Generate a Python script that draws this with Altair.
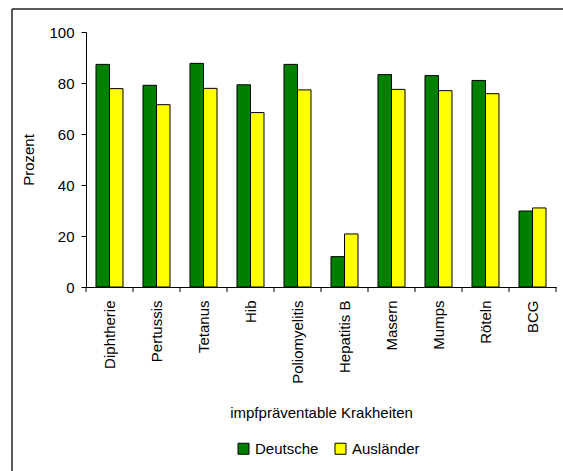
import altair as alt
import pandas as pd

# Impfquoten nach Herkunft
krankheiten = ["Diphtherie", "Pertussis", "Tetanus", "Hib", "Poliomyelitis",
               "Hepatitis B", "Masern", "Mumps", "Röteln", "BCG"]
deutsche = [87.3, 79.1, 87.7, 79.3, 87.3, 11.9, 83.3, 82.9, 81.0, 29.8]
auslaender = [77.8, 71.5, 77.9, 68.4, 77.3, 20.8, 77.5, 77.0, 75.8, 31.0]
gruppen = ["Deutsche", "Ausländer"]
farben = ["#008000", "#FFFF00"]
y_ticks = [0, 20, 40, 60, 80, 100]

FONT = "Liberation Sans"
FS = 15

df = pd.DataFrame({
    "Krankheit": krankheiten * 2,
    "Gruppe": [gruppen[0]] * len(krankheiten) + [gruppen[1]] * len(krankheiten),
    "Prozent": deutsche + auslaender,
})
df_ticks = pd.DataFrame({"Krankheit": krankheiten})
df_last = pd.DataFrame({"Krankheit": krankheiten[-1:]})

x_scale = alt.Scale(domain=krankheiten, paddingInner=0, paddingOuter=0)

bars = alt.Chart(df).mark_bar(stroke="black", strokeWidth=1).encode(
    x=alt.X("Krankheit:N", sort=krankheiten, scale=x_scale,
            axis=alt.Axis(title="impfpräventable Krakheiten", labelAngle=270,
                          ticks=False, labelPadding=13, labelFont=FONT,
                          labelFontSize=FS, labelColor="black",
                          titleFont=FONT, titleFontSize=FS, titleFontWeight="normal",
                          titleColor="black", titleY=118, titleBaseline="top",
                          domainColor="black", grid=False)),
    xOffset=alt.XOffset("Gruppe:N", sort=gruppen,
                        scale=alt.Scale(domain=gruppen, paddingInner=0, paddingOuter=0.74)),
    y=alt.Y("Prozent:Q", scale=alt.Scale(domain=[0, 100]),
            axis=alt.Axis(values=y_ticks, title="Prozent", grid=False,
                          tickSize=5, labelPadding=7, labelFont=FONT,
                          labelFontSize=FS, labelColor="black",
                          domainColor="black", tickColor="black",
                          titleFont=FONT, titleFontSize=FS, titleFontWeight="normal",
                          titleColor="black", titleX=-53, titleY=127.5,
                          titleBaseline="alphabetic")),
    color=alt.Color("Gruppe:N", sort=gruppen,
                    scale=alt.Scale(domain=gruppen, range=farben),
                    legend=alt.Legend(title=None, orient="none", direction="horizontal",
                                      legendX=150, legendY=409, symbolType="square",
                                      symbolSize=121, symbolStrokeColor="black",
                                      symbolStrokeWidth=1, symbolOpacity=1,
                                      labelFont=FONT, labelFontSize=FS,
                                      labelColor="black", labelOffset=4,
                                      columnPadding=14)),
)

# Category separator ticks below the x axis
ticks_start = alt.Chart(df_ticks).mark_rule(color="black").encode(
    x=alt.X("Krankheit:N", sort=krankheiten, scale=x_scale, bandPosition=0),
    y=alt.value(255), y2=alt.value(260),
)
ticks_end = alt.Chart(df_last).mark_rule(color="black").encode(
    x=alt.X("Krankheit:N", sort=krankheiten, scale=x_scale, bandPosition=1),
    y=alt.value(255), y2=alt.value(260),
)

# Outer frame (top and left edges)
frame_top = alt.Chart(df_last).mark_rule(color="#222222", strokeWidth=1.5).encode(
    x=alt.value(-74), x2=alt.value(480), y=alt.value(-23),
)
frame_left = alt.Chart(df_last).mark_rule(color="#222222", strokeWidth=1.5).encode(
    x=alt.value(-74), y=alt.value(-23), y2=alt.value(445),
)

chart = alt.layer(bars, ticks_start, ticks_end, frame_top, frame_left).properties(
    width=470, height=255,
    autosize=alt.AutoSizeParams(type="none"),
    padding={"left": 86, "top": 32, "right": 7, "bottom": 184},
).configure(background="white").configure_view(stroke="white", strokeOpacity=0, strokeWidth=1)

chart.save("out.html", embed_options={"renderer": "svg", "actions": False})
